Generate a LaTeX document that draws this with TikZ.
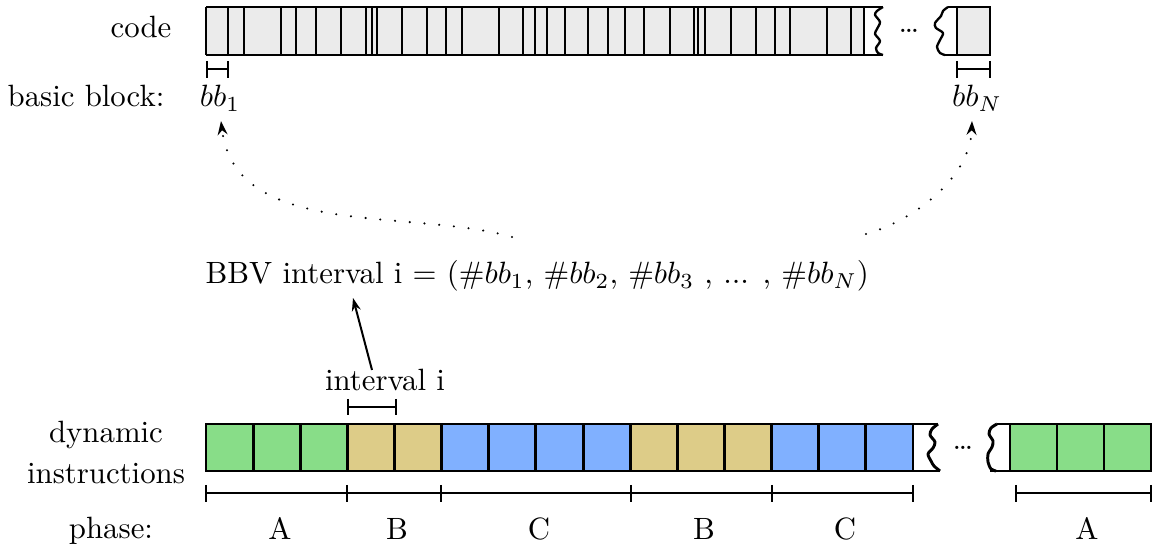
\documentclass[tikz,border=0pt]{standalone}
\usetikzlibrary{arrows.meta}
\definecolor{codegray}{RGB}{235,235,235}
\definecolor{phA}{RGB}{136,221,136}
\definecolor{phB}{RGB}{221,204,136}
\definecolor{phC}{RGB}{128,176,255}
\begin{document}
\begin{tikzpicture}[x=0.3247pt,y=-0.3247pt,
  font=\fontsize{10}{13}\selectfont,
  every node/.style={inner sep=0pt},
  codeline/.style={line width=0.75pt},
  cellbox/.style={draw, line width=0.95pt},
  rule/.style={line width=0.65pt},
  squiggle/.style={line width=0.75pt, line join=round},
  dotarrow/.style={line width=0.75pt, line cap=round, dash pattern=on 0pt off 4.8pt,
                   -{Stealth[length=4.5pt,width=3.2pt]}},
  solidarrow/.style={line width=0.65pt, -{Stealth[length=4.2pt,width=2.9pt]}}]
\useasboundingbox (0,0) rectangle (1154,548);

% ---- code bar with basic blocks ----
\fill[codegray] (206,7) rectangle (864,55);
\fill[codegray] (957,7) rectangle (990,55);
\foreach \x in {206,228,244,281,296,316,341,366,372,377,402,427,446,462,499,523,535,547,565,588,608,625,644,670,694,698,705,731,756,775,790,827,851,864}
  \draw[codeline] (\x,7) -- (\x,55);
\draw[codeline] (206,7) -- (883,7);
\draw[codeline] (206,55) -- (883,55);
\draw[squiggle] plot[smooth] coordinates {(883,7) (877,11) (875,15) (880,22) (877,29) (875,34) (880,41) (876,48) (878,53) (883,55)};
\draw[squiggle] plot[smooth] coordinates {(948,7) (943,11) (941,16) (935,23) (936,28) (943,33) (940,40) (937,47) (940,53) (945,55)};
\draw[codeline] (948,7) -- (990,7) -- (990,55) -- (945,55);
\draw[codeline] (957,7) -- (957,55);
\node (dtop) at (909,31) {\dots};

% ---- basic block brackets and labels ----
\node[anchor=base east] (code) at (172,38) {code};
\node[anchor=base east] (bblabel) at (165,107) {basic block:};
\draw[rule] (207,69) -- (228,69);
\draw[rule] (207,61) -- (207,78);
\draw[rule] (228,61) -- (228,78);
\draw[rule] (957,69) -- (990,69);
\draw[rule] (957,61) -- (957,78);
\draw[rule] (990,61) -- (990,78);
\node[anchor=base] (bb1) at (220,107) {$bb_1$};
\node[anchor=base] (bbN) at (977,107) {$bb_N$};

% ---- basic block vector ----
\node[anchor=base west] (bbv) at (205,284)
  {BBV interval i $=$ (\#$bb_1$, \#$bb_2$, \#$bb_3$ , ... , \#$bb_N$)};
\coordinate (s1) at (512,237);
\coordinate (t1) at (221,121);
\coordinate (s2) at (866,234);
\coordinate (t2) at (972,121);
\draw[dotarrow] (s1) .. controls (410,208) and (235,240) .. (t1);
\draw[dotarrow] (s2) .. controls (910,222) and (970,180) .. (t2);

% ---- dynamic instruction stream ----
\foreach \i/\c in {0/phA,1/phA,2/phA,3/phB,4/phB,5/phC,6/phC,7/phC,8/phC,9/phB,10/phB,11/phB,12/phC,13/phC,14/phC}
  \draw[cellbox, fill=\c] ({206+47.13*\i},424) rectangle ++(47.13,47);
\foreach \i in {0,1,2}
  \draw[cellbox, fill=phA] ({1010+47*\i},424) rectangle ++(47,47);
\draw[cellbox] (913,424) -- (938,424);
\draw[cellbox] (913,471) -- (940,471);
\draw[squiggle, line width=0.95pt] plot[smooth] coordinates {(938,424) (932,429) (930,435) (935,442) (933,448) (928,454) (931,461) (934,466) (940,471)};
\draw[cellbox] (997,424) -- (1010,424);
\draw[cellbox] (990,471) -- (1010,471);
\draw[squiggle, line width=0.95pt] plot[smooth] coordinates {(997,424) (991,428) (989,434) (993,441) (992,447) (988,454) (988,462) (991,469) (996,471)};
\node (dbot) at (963,448) {\dots};

\node[anchor=north, align=center] (dyn) at (106,421) {dynamic\\instructions};

% ---- interval marker ----
\node[anchor=base] (ivl) at (385,391) {interval i};
\draw[rule] (348,407) -- (396,407);
\draw[rule] (348,399) -- (348,415);
\draw[rule] (396,399) -- (396,415);
\coordinate (ia) at (372,370);
\coordinate (ib) at (353,298);
\draw[solidarrow] (ia) -- (ib);

% ---- phases ----
\draw[rule] (206,493) -- (913,493);
\foreach \x in {206,347,441,631,772,913}
  \draw[rule] (\x,485) -- (\x,502);
\draw[rule] (1016,493) -- (1151,493);
\draw[rule] (1016,485) -- (1016,502);
\draw[rule] (1151,485) -- (1151,502);
\node[anchor=base] (phase) at (111,539) {phase:};
\node[anchor=base] (pa1) at (280,540) {A};
\node[anchor=base] (pb1) at (397,540) {B};
\node[anchor=base] (pc1) at (539,540) {C};
\node[anchor=base] (pb2) at (704,540) {B};
\node[anchor=base] (pc2) at (845,540) {C};
\node[anchor=base] (pa2) at (1087,540) {A};
\end{tikzpicture}
\end{document}
